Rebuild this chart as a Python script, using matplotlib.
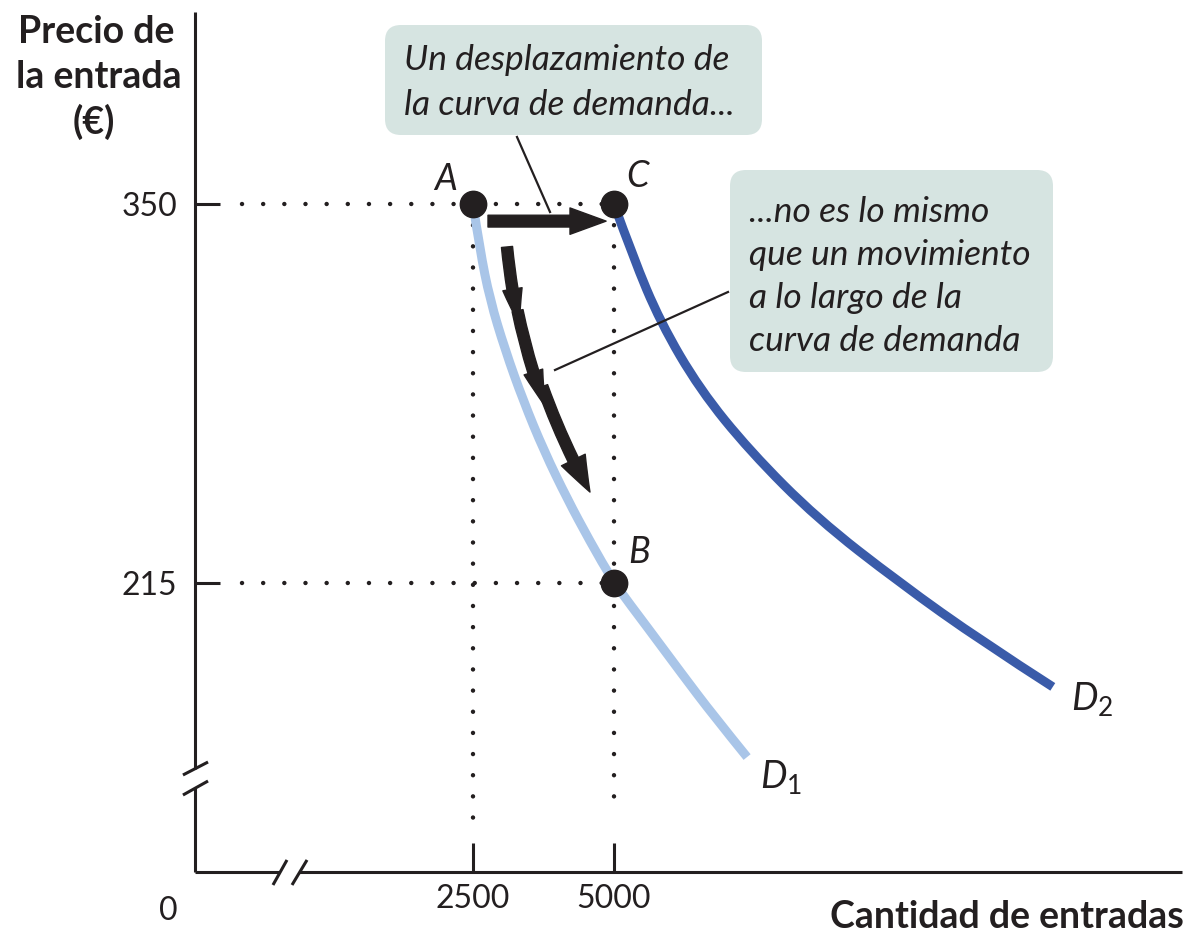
import matplotlib
matplotlib.use('Agg')
import matplotlib.pyplot as plt
from matplotlib.patches import FancyBboxPatch, FancyArrowPatch, PathPatch
from matplotlib.path import Path

plt.rcParams['font.family'] = ['Lato', 'DejaVu Sans']
plt.rcParams['mathtext.fontset'] = 'custom'
plt.rcParams['mathtext.it'] = 'Lato:italic'
plt.rcParams['mathtext.rm'] = 'Lato'
plt.rcParams['mathtext.bf'] = 'Lato:bold'

# ---------------- data ----------------
x_ticks = [2500, 5000]
x_tick_labels = ['2500', '5000']
y_ticks = [215, 350]
y_tick_labels = ['215', '350']

d1_q = [2500, 2620, 2800, 3070, 3390, 3760, 4170, 4570, 5000, 5600, 6190, 6770, 7360]
d1_p = [350, 334, 316, 298, 280, 262, 245, 230, 215, 199, 183, 167.6, 153]
d2_q = [5000, 5340, 5820, 6520, 7410, 8600, 10070, 11540, 12780]
d2_p = [350, 331, 308, 284, 262, 238, 215, 194, 178]

point_names = ['A', 'B', 'C']
point_q = [2500, 5000, 5000]
point_p = [350, 215, 350]

box1_lines = ['Un desplazamiento de', 'la curva de demanda...']
box2_lines = ['...no es lo mismo', 'que un movimiento', 'a lo largo de la', 'curva de demanda']

INK = '#231f20'
C_D1 = '#a9c5e8'
C_D2 = '#3a5ba9'
C_BOX = '#d6e4e1'


def smooth_path(xs, ys):
    """Quadratic-Bezier path through the read points (drawn by matplotlib's Path)."""
    pts = list(zip(xs, ys))
    verts = [pts[0]]
    codes = [Path.MOVETO]
    for i in range(1, len(pts) - 1):
        mid = ((pts[i][0] + pts[i + 1][0]) / 2, (pts[i][1] + pts[i + 1][1]) / 2)
        if i == len(pts) - 2:
            mid = pts[-1]
        verts += [pts[i], mid]
        codes += [Path.CURVE3, Path.CURVE3]
    return Path(verts, codes)


W, H = 1191, 932
fig = plt.figure(figsize=(W / 100, H / 100), dpi=100)
ax = fig.add_axes([195 / W, (H - 872) / H, 987 / W, 860 / H])
ax.set_xlim(-2429, 15071)
ax.set_ylim(112.06, 418.39)
for s in ax.spines.values():
    s.set_visible(False)

# axes lines with breaks
k = dict(color=INK, lw=2.2, transform=ax.transAxes, clip_on=False, solid_capstyle='butt')
ax.plot([0, 0], [0, 0.0973], **k)
ax.plot([0, 0], [0.1203, 1], **k)
ax.plot([0, 0.0861], [0, 0], **k)
ax.plot([0.1054, 1], [0, 0], **k)
ax.plot([-0.0122, 0.0132], [0.0895, 0.1058], **k)
ax.plot([-0.0122, 0.0132], [0.1128, 0.1279], **k)
ax.plot([0.0790, 0.0932], [-0.0151, 0.0140], **k)
ax.plot([0.0983, 0.1135], [-0.0151, 0.0140], **k)

ax.set_xticks(x_ticks, x_tick_labels)
ax.set_yticks(y_ticks, y_tick_labels)
ax.tick_params(axis='x', direction='in', length=21, width=2.2, pad=9, labelsize=23, color=INK, labelcolor=INK)
ax.tick_params(axis='y', direction='in', length=18, width=2.2, pad=13, labelsize=23, color=INK, labelcolor=INK)

# dotted guides
dot = dict(color=INK, lw=3.2, linestyle=(0, (0.01, 4.75)), dash_capstyle='round', zorder=1)
guide_left = -1600
ax.plot([guide_left, point_q[2]], [point_p[0], point_p[0]], **dot)
ax.plot([guide_left, point_q[1]], [point_p[1], point_p[1]], **dot)
ax.plot([point_q[0], point_q[0]], [point_p[0], 130], **dot)
ax.plot([point_q[1], point_q[1]], [point_p[2], 134], **dot)

# demand curves
for xs, ys, c in [(d1_q, d1_p, C_D1), (d2_q, d2_p, C_D2)]:
    ax.add_patch(PathPatch(smooth_path(xs, ys), fc='none', ec=c, lw=6.5, capstyle='butt', zorder=2))

# points
ax.plot(point_q, point_p, 'o', ms=19, color=INK, ls='none', zorder=5)
offs = {'A': (-20, 18), 'B': (18, 22), 'C': (17, 20)}
for n, q, p in zip(point_names, point_q, point_p):
    ax.annotate(n, (q, p), xytext=offs[n], textcoords='offset points', ha='center', va='center',
                fontsize=26, style='italic', color=INK, zorder=6)

ax.annotate('$D_1$', (d1_q[-1], d1_p[-1]), xytext=(9, -14), textcoords='offset points',
            ha='left', va='center', fontsize=27, color=INK)
ax.annotate('$D_2$', (d2_q[-1], d2_p[-1]), xytext=(13, -9), textcoords='offset points',
            ha='left', va='center', fontsize=27, color=INK)

# arrows
ax.add_patch(FancyArrowPatch((2766, 343.9), (4860, 343.9),
                             arrowstyle='simple,head_length=2.6,head_width=1.9,tail_width=0.85',
                             mutation_scale=10, color=INK, shrinkA=0, shrinkB=0, zorder=4))
segs = [((3103, 334.7), (3320, 307.0), 1.4, 0.03),
        ((3290, 312.0), (3780, 278.0), 1.4, 0.04),
        ((3730, 285.0), (4574, 247.4), 1.9, 0.04)]
for a, b, hw, rad in segs:
    ax.add_patch(FancyArrowPatch(a, b, connectionstyle=f'arc3,rad={rad}',
                                 arrowstyle=f'simple,head_length=2.6,head_width={hw},tail_width=0.8',
                                 mutation_scale=10, color=INK, shrinkA=0, shrinkB=0, zorder=4))

# overlay in pixel coordinates
ov = fig.add_axes([0, 0, 1, 1])
ov.set_xlim(0, W)
ov.set_ylim(H, 0)
ov.axis('off')
ov.patch.set_alpha(0)

ov.add_patch(FancyBboxPatch((385, 25), 377, 110, boxstyle='round,pad=0,rounding_size=16', fc=C_BOX, ec='none'))
ov.add_patch(FancyBboxPatch((730, 170), 323, 202, boxstyle='round,pad=0,rounding_size=16', fc=C_BOX, ec='none'))
ov.plot([517, 550], [137, 212], color=INK, lw=1.6)
ov.plot([728, 555], [292, 370], color=INK, lw=1.6)

for i, t in enumerate(box1_lines):
    ov.text(404, 70 + 45 * i, t, fontsize=25.5, style='italic', color=INK, ha='left', va='baseline')
for i, t in enumerate(box2_lines):
    ov.text(749, 222 + 43 * i, t, fontsize=25.5, style='italic', color=INK, ha='left', va='baseline')

ov.text(96, 43, 'Precio de', fontsize=27, weight='bold', color=INK, ha='center', va='baseline')
ov.text(99, 88, 'la entrada', fontsize=27, weight='bold', color=INK, ha='center', va='baseline')
ov.text(94, 134, '(€)', fontsize=27, weight='bold', color=INK, ha='center', va='baseline')
ov.text(1184, 928, 'Cantidad de entradas', fontsize=27, weight='bold', color=INK, ha='right', va='baseline')
ov.text(168, 920, '0', fontsize=23, color=INK, ha='center', va='baseline')

fig.savefig('out.png', dpi=100)
